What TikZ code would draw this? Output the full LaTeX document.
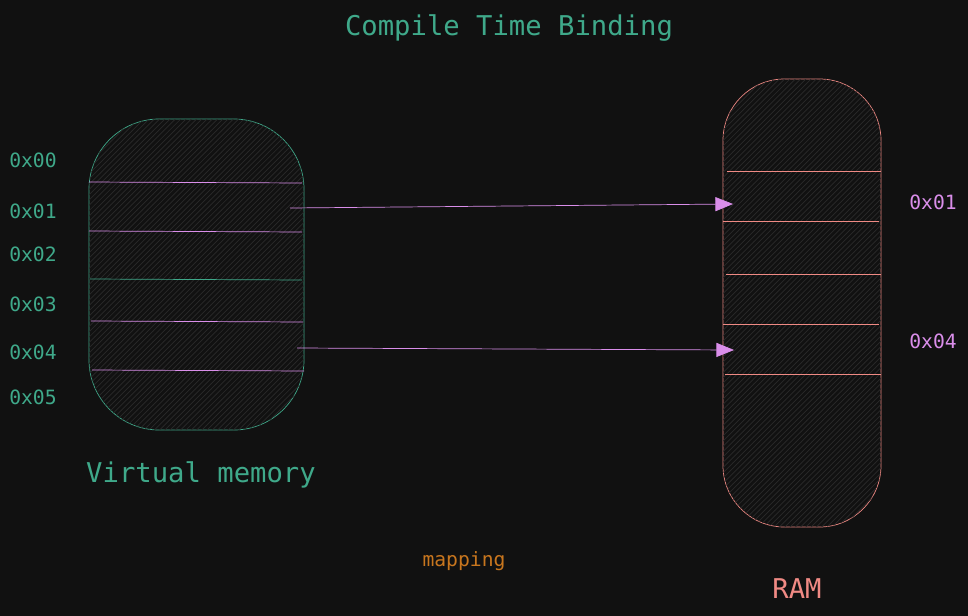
\documentclass[tikz,border=0pt]{standalone}
\usepackage{fontspec}
\setmainfont{DejaVu Sans Mono}
\usetikzlibrary{patterns,arrows.meta}
\definecolor{bg}{HTML}{111111}
\definecolor{teal}{HTML}{3FA98A}
\definecolor{lilac}{HTML}{DA8EEA}
\definecolor{salmon}{HTML}{F08A84}
\definecolor{rust}{HTML}{C8761E}
\definecolor{hatch}{HTML}{2A2A2A}
\tikzset{
  addr/.style={font=\fontsize{11.2}{13}\selectfont},
  big/.style={font=\fontsize{15.5}{18}\selectfont},
  block/.style={fill=bg, postaction={pattern=north east lines, pattern color=hatch}},
  map/.style={lilac, -{Triangle[length=10pt,width=8pt]}}
}
\begin{document}
\begin{tikzpicture}[x=0.02cm,y=-0.02cm]
                \fill [bg] (0, 0) rectangle (968, 616);
                \node [teal, big] (title) at (509, 28) {Compile Time Binding};
                % virtual memory
                \draw [block, draw=teal, rounded corners=40] (89, 119) rectangle (304, 430);
                \draw [lilac] (89, 182) -- (302, 183);
                \draw [lilac] (89, 231) -- (302, 232);
                \draw [teal] (90, 279) -- (302, 280);
                \draw [lilac] (91, 321) -- (303, 322);
                \draw [lilac] (92, 370) -- (304, 371);
                \node [teal, addr] (v0) at (33, 160) {0x00};
                \node [teal, addr] (v1) at (33, 211) {0x01};
                \node [teal, addr] (v2) at (33, 254) {0x02};
                \node [teal, addr] (v3) at (33, 304) {0x03};
                \node [teal, addr] (v4) at (33, 352) {0x04};
                \node [teal, addr] (v5) at (33, 397) {0x05};
                \node [teal, big] (virt) at (201, 475) {Virtual memory};
                % ram
                \draw [block, draw=salmon, rounded corners=35] (723, 79) rectangle (881, 527);
                \draw [salmon] (727, 171) -- (881, 171);
                \draw [salmon] (723, 221) -- (879, 221);
                \draw [salmon] (726, 274) -- (881, 274);
                \draw [salmon] (723, 324) -- (879, 324);
                \draw [salmon] (725, 374) -- (881, 374);
                \node [lilac, addr] (r1) at (933, 202) {0x01};
                \node [lilac, addr] (r4) at (933, 341) {0x04};
                \node [salmon, big] (ram) at (797, 589) {RAM};
                % mapping
                \coordinate (s1) at (290, 208);
                \coordinate (t1) at (733, 204);
                \coordinate (s4) at (297, 348);
                \coordinate (t4) at (734, 350);
                \draw [map] (s1) -- (t1);
                \draw [map] (s4) -- (t4);
                \node [rust, addr] (mapping) at (464, 561) {mapping};
            \end{tikzpicture}
\end{document}
